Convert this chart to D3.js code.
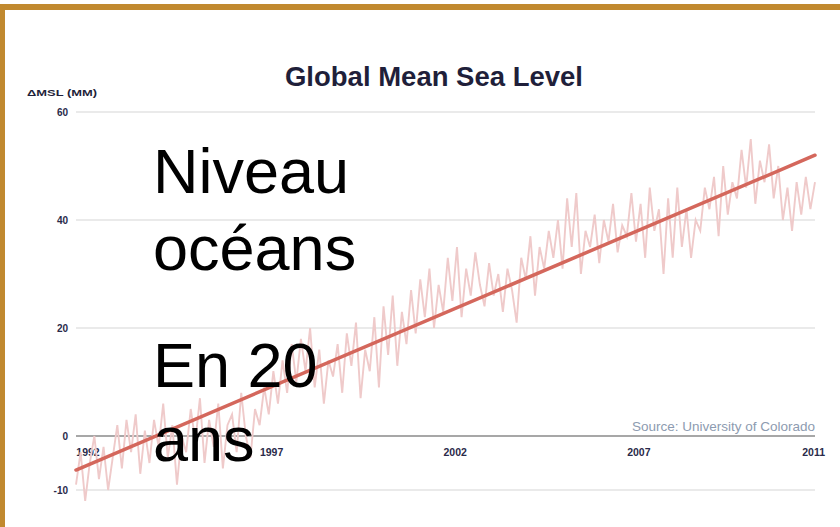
<!DOCTYPE html>
<html>
<head>
<meta charset="utf-8">
<script src="https://cdn.jsdelivr.net/npm/d3@7"></script>
<style>
  body { margin: 0; background: #fff; }
  svg { display: block; font-family: "Liberation Sans", Arial, sans-serif; }
</style>
</head>
<body>
<div id="chart"></div>
<script>
// sea level anomaly (mm), 8 readings per year starting 1992.0
const startYear = 1992;
const stepYear = 0.125;
const seaLevel = [
  -9, -3, -12, -5, 0, -8, -2, -10,
  -4, 2, -6, 3, -3, 4, -7, 1,
  -5, 3, -2, 6, -4, 2, -9, 0,
  -3, 5, -1, 7, -5, 3, -2, 6,
  -6, 2, 4, -3, 8, 0, -4, 5,
  2, 9, 4, 12, 6, 14, 8, 17,
  10, 18, 12, 20, 9, 16, 6, 14,
  11, 17, 8, 19, 13, 21, 7, 16,
  12, 22, 9, 24, 15, 26, 13, 23,
  17, 27, 19, 29, 22, 31, 20, 28,
  23, 33, 25, 35, 22, 31, 26, 34,
  28, 24, 32, 26, 30, 23, 31, 27,
  21, 33, 29, 37, 26, 35, 31, 38,
  33, 40, 31, 44, 35, 45, 30, 38,
  35, 41, 32, 40, 36, 43, 34, 39,
  37, 45, 36, 43, 33, 46, 38, 42,
  30, 44, 33, 46, 35, 42, 33, 40,
  38, 46, 42, 48, 37, 50, 41, 47,
  44, 53, 46, 55, 43, 51, 47, 54,
  44, 50, 40, 46, 38, 47, 41, 48,
  42, 47
];
const trendYears = [1992, 2012.125];
const trendValues = [-6.3, 52];
const yTicks = [60, 40, 20, 0, -10];
const xTickYears = [1992, 1997, 2002, 2007, 2011];
const overlayLines = ["Niveau", "océans", "En 20", "ans"];

const W = 840, H = 527;
const svg = d3.select("#chart").append("svg")
  .attr("width", W)
  .attr("height", H);

svg.append("rect").attr("width", W).attr("height", H).attr("fill", "#fff");

// slide frame
svg.append("rect").attr("x", 0).attr("y", 4).attr("width", W).attr("height", 6).attr("fill", "#C1892F");
svg.append("rect").attr("x", 0).attr("y", 4).attr("width", 5).attr("height", H).attr("fill", "#C1892F");

let data = seaLevel.map((v, i) => ({t: startYear + i * stepYear, v: v}));

let x = d3.scaleLinear()
  .domain([startYear, trendYears[1]])
  .range([76, 815]);
let y = d3.scaleLinear()
  .domain([-10, 60])
  .range([490, 112]);

// grid
svg.selectAll(".grid")
  .data(yTicks)
  .enter()
  .append("line")
  .attr("x1", x.range()[0])
  .attr("x2", x.range()[1])
  .attr("y1", d => y(d))
  .attr("y2", d => y(d))
  .attr("stroke", d => d == 0 ? "#8a8a8a" : "#e3e3e3")
  .attr("stroke-width", 1.6);

// y tick labels
svg.selectAll(".ytick")
  .data(yTicks)
  .enter()
  .append("text")
  .attr("x", 68)
  .attr("y", d => y(d) + 3.5)
  .attr("text-anchor", "end")
  .attr("font-size", 10)
  .attr("font-weight", "bold")
  .attr("fill", "#2a2a4a")
  .text(d => d);

// x tick labels
svg.selectAll(".xtick")
  .data(xTickYears)
  .enter()
  .append("text")
  .attr("x", (d, i) => i == xTickYears.length - 1 ? x.range()[1] + 10 : x(d) + 12)
  .attr("y", 456)
  .attr("text-anchor", (d, i) => i == xTickYears.length - 1 ? "end" : "middle")
  .attr("font-size", 10.5)
  .attr("font-weight", "bold")
  .attr("fill", "#2a2a4a")
  .text(d => d);

// noisy series
let line = d3.line()
  .x(d => x(d.t))
  .y(d => y(d.v));
svg.append("path")
  .datum(data)
  .attr("d", line)
  .attr("fill", "none")
  .attr("stroke", "#EFCACA")
  .attr("stroke-width", 1.9);

// trend
svg.append("line")
  .attr("x1", x(trendYears[0]))
  .attr("y1", y(trendValues[0]))
  .attr("x2", x(trendYears[1]))
  .attr("y2", y(trendValues[1]))
  .attr("stroke", "#D4675C")
  .attr("stroke-width", 3.5)
  .attr("stroke-linecap", "round");

// titles
svg.append("text")
  .attr("x", 434)
  .attr("y", 86)
  .attr("text-anchor", "middle")
  .attr("font-size", 27.5)
  .attr("font-weight", "bold")
  .attr("fill", "#1f1f3a")
  .text("Global Mean Sea Level");

svg.append("text")
  .attr("x", 27)
  .attr("y", 96)
  .attr("font-size", 9)
  .attr("font-weight", "bold")
  .attr("fill", "#1f1f3a")
  .attr("textLength", 70)
  .attr("lengthAdjust", "spacingAndGlyphs")
  .text("ΔMSL (MM)");

svg.append("text")
  .attr("x", 815)
  .attr("y", 431)
  .attr("text-anchor", "end")
  .attr("font-size", 13.5)
  .attr("fill", "#8d9bb0")
  .text("Source: University of Colorado");

// overlay text
const overlayY = [193, 270, 387, 461];
svg.selectAll(".overlay")
  .data(overlayLines)
  .enter()
  .append("text")
  .attr("x", 153)
  .attr("y", (d, i) => overlayY[i])
  .attr("font-size", 63)
  .attr("fill", "#000")
  .text(d => d);
</script>
</body>
</html>
